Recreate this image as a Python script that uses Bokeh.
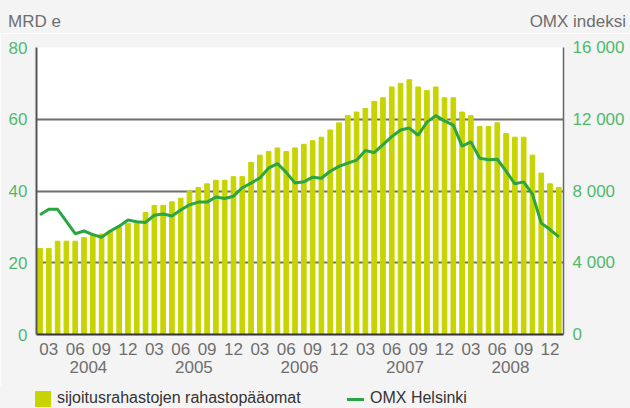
import re
from bokeh.plotting import figure
from bokeh.layouts import column
from bokeh.models import (Range1d, LinearAxis, FixedTicker, ColumnDataSource, Div)
from bokeh.embed import file_html
from bokeh.resources import INLINE

# ---- data ----
years = ["2004", "2005", "2006", "2007", "2008"]
month_labels = ["03", "06", "09", "12"]
# monthly, Feb 2004 .. Jan 2009
fund_capital = [24, 24, 26, 26, 26, 27, 28, 28, 29, 30, 31, 31, 34, 36, 36, 37,
                38, 40, 41, 42, 43, 43, 44, 44, 48, 50, 51, 52, 51, 52,
                53, 54, 55, 57, 59, 61, 62, 63, 65, 66, 69, 70, 71, 69, 68,
                69, 66, 66, 62, 61, 58, 58, 59, 56, 55, 55, 50, 45, 42, 41]
omx_helsinki = [6670, 6980, 6980, 6300, 5620, 5770, 5570, 5420, 5770, 6040, 6380, 6290, 6250, 6650, 6720, 6610,
                6940, 7230, 7380, 7380, 7670, 7580, 7710, 8180, 8440, 8730, 9280, 9530, 9040, 8440,
                8510, 8770, 8710, 9100, 9370, 9550, 9720, 10260, 10140, 10590, 11030, 11400, 11510, 11110, 11840,
                12200, 11910, 11670, 10500, 10740, 9830, 9740, 9770, 9110, 8400, 8510, 7820, 6210, 5850, 5440]
left_ticks = [0, 20, 40, 60, 80]
right_ticks = [0, 4000, 8000, 12000, 16000]
right_tick_labels = ["0", "4 000", "8 000", "12 000", "16 000"]
series_names = ["sijoitusrahastojen rahastopääomat", "OMX Helsinki"]
left_title = "MRD e"
right_title = "OMX indeksi"

# index: Jan 2004 = 0, so Feb 2004 = 1
x = list(range(1, len(fund_capital) + 1))
src = ColumnDataSource(dict(x=x, fund=fund_capital, omx=omx_helsinki))

GREEN_TXT = "#4fba6c"
GREY_TXT = "#6e6e6e"
BAR = "#c8d400"
LINE = "#2ba542"
BG = "#f4f4f4"
FONT = "Liberation Sans"
W = 630
HDR_H = 33
MAIN_H = 353
LEG_H = 408 - HDR_H - MAIN_H

# ---------- header with the two axis titles ----------
hdr_html = (
    f'<div style="position:relative;width:{W}px;height:{HDR_H}px;background:{BG};'
    f'font-family:\'{FONT}\';font-size:17px;line-height:20px;color:{GREY_TXT};">'
    f'<span style="position:absolute;left:8px;top:12px;white-space:nowrap;">{left_title}</span>'
    f'<span style="position:absolute;right:4px;top:12px;white-space:nowrap;">{right_title}</span>'
    '</div>'
)
hdr = Div(text=hdr_html, width=W, height=HDR_H, margin=(0, 0, 0, 0))

# ---------- main chart ----------
p = figure(width=W, height=MAIN_H, output_backend="svg", toolbar_location=None,
           x_range=Range1d(0.6, 60.53), y_range=Range1d(0, 80),
           min_border_left=36, min_border_right=67, min_border_top=14, min_border_bottom=52)
p.extra_y_ranges = {"omx": Range1d(0, 16000)}
p.background_fill_color = "white"
p.border_fill_color = BG
p.outline_line_color = None

bars = p.vbar(x="x", top="fund", width=0.53, color=BAR, source=src)
line = p.line(x="x", y="omx", y_range_name="omx", color=LINE, line_width=3, source=src)

p.xgrid.visible = False
p.ygrid.ticker = FixedTicker(ticks=left_ticks)
p.ygrid.grid_line_color = "#6f6f6f"
p.ygrid.grid_line_width = 2


def style_axis(ax, color, standoff):
    ax.major_tick_out = 0
    ax.major_tick_in = 0
    ax.minor_tick_out = 0
    ax.minor_tick_in = 0
    ax.major_label_text_color = color
    ax.major_label_text_font = FONT
    ax.major_label_text_font_size = "17px"
    ax.major_label_standoff = standoff


ya = p.yaxis[0]
ya.ticker = FixedTicker(ticks=left_ticks)
style_axis(ya, GREEN_TXT, 9)
ya.axis_line_color = "#555555"
ya.axis_line_width = 2

ra = LinearAxis(y_range_name="omx", ticker=FixedTicker(ticks=right_ticks),
                major_label_overrides={t: l for t, l in zip(right_ticks, right_tick_labels)})
style_axis(ra, GREEN_TXT, 9)
ra.axis_line_color = "#666666"
ra.axis_line_width = 1.5
p.add_layout(ra, "right")

month_ticks = []
month_over = {}
for yi, _ in enumerate(years):
    for mi, ml in enumerate(month_labels):
        t = yi * 12 + (mi + 1) * 3 - 1
        month_ticks.append(t)
        month_over[t] = ml
xa = p.xaxis[0]
xa.ticker = FixedTicker(ticks=month_ticks)
xa.major_label_overrides = month_over
style_axis(xa, GREY_TXT, 8)
xa.axis_line_color = "#333333"
xa.axis_line_width = 2

year_ticks = [yi * 12 + 6.5 for yi in range(len(years))]
ya2 = LinearAxis(ticker=FixedTicker(ticks=year_ticks),
                 major_label_overrides={t: yv for t, yv in zip(year_ticks, years)})
style_axis(ya2, GREY_TXT, 3)
ya2.axis_line_color = None
p.add_layout(ya2, "below")

# ---------- legend strip ----------
leg_html = (
    f'<div style="position:relative;width:{W}px;height:{LEG_H}px;background:{BG};'
    f'font-family:\'{FONT}\';font-size:16px;line-height:19px;color:#333333;">'
    f'<span style="position:absolute;left:35px;top:5px;width:16px;height:16px;background:{BAR};"></span>'
    f'<span style="position:absolute;left:57px;top:2px;white-space:nowrap;">{series_names[0]}</span>'
    f'<span style="position:absolute;left:347px;top:12px;width:17px;height:3px;background:{LINE};"></span>'
    f'<span style="position:absolute;left:370px;top:2px;white-space:nowrap;">{series_names[1]}</span>'
    '</div>'
)
leg = Div(text=leg_html, width=W, height=LEG_H, margin=(0, 0, 0, 0))

layout = column(hdr, p, leg, spacing=0)
html = file_html(layout, INLINE)
html = re.sub(r"<body([^>]*)>", r'<body\1 style="background:%s;">' % BG, html, count=1)
open("out.html", "w").write(html)
